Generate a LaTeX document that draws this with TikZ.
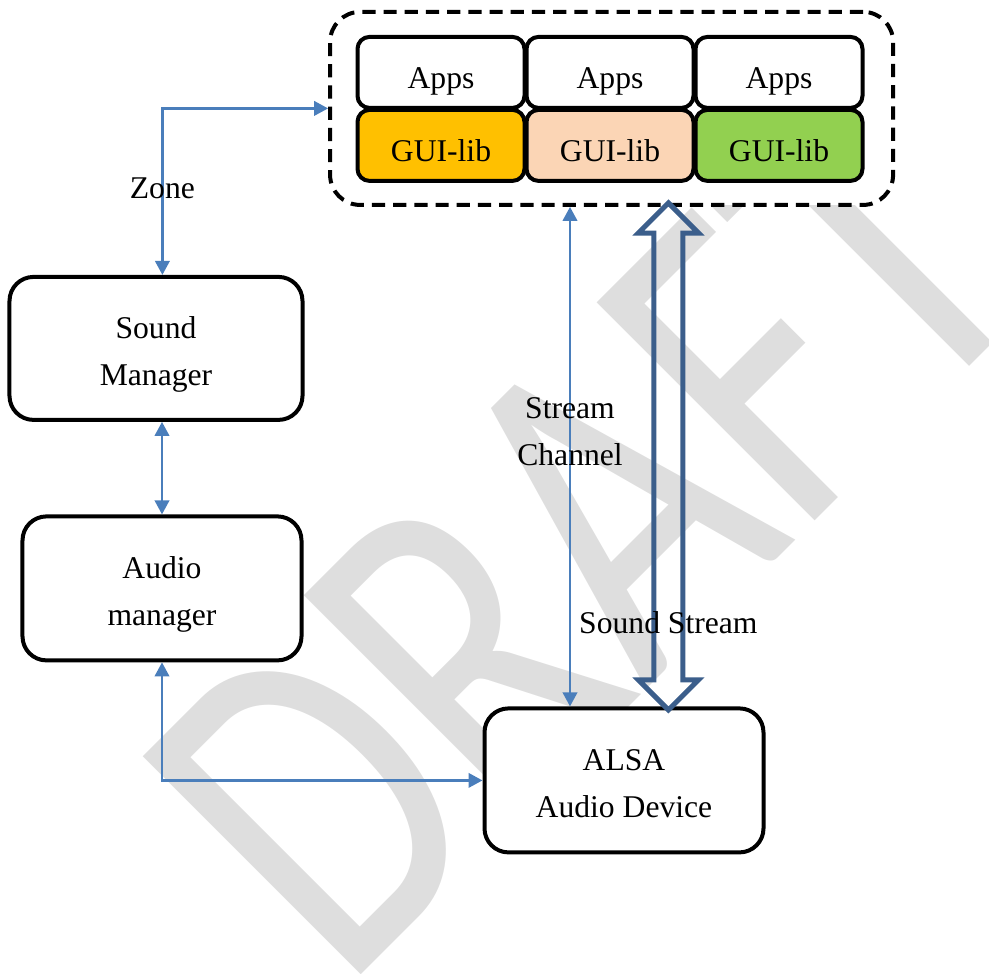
\documentclass[tikz,border=0pt]{standalone}
\usepackage{fontspec}
\setmainfont{Liberation Serif}
\newfontfamily\draftfont{Carlito}
\usetikzlibrary{shapes.arrows, arrows.meta}
\definecolor{guiorange}{RGB}{255,192,0}
\definecolor{guipeach}{RGB}{251,213,181}
\definecolor{guigreen}{RGB}{146,208,80}
\definecolor{linkblue}{RGB}{74,126,187}
\definecolor{streamblue}{RGB}{59,94,139}
\definecolor{draftgray}{RGB}{222,222,222}
\tikzstyle{module} = [rectangle, rounded corners=0.6cm, minimum width=6.975cm, minimum height=3.6cm, align=center, text height=1.87cm, text depth=0cm, draw=black, line width=0.1cm, fill=white]
\tikzstyle{app} = [rectangle, rounded corners=0.3cm, minimum width=4.175cm, minimum height=1.775cm, text centered, text height=0.82cm, text depth=0cm, draw=black, line width=0.1cm, fill=white]
\tikzstyle{appgroup} = [rectangle, rounded corners=0.75cm, minimum width=14.075cm, minimum height=4.825cm, draw=black, line width=0.1cm, dash pattern=on 0.33cm off 0.2cm, fill=white]
\tikzstyle{link} = [line width=0.065cm, <->, >={Triangle[length=0.35cm,width=0.36cm]}, draw=linkblue]
\tikzstyle{bigarrow} = [double arrow, double arrow head extend=0.39cm, minimum width=1.5cm, minimum height=12.675cm, inner xsep=0, inner ysep=0.3cm, draw=streamblue, line width=0.125cm, rotate=90]
\tikzstyle{watermark} = [rotate=45, yscale=1.3, anchor=base west, inner sep=0, text=draftgray, font=\draftfont\fontsize{263}{263}\selectfont]

\begin{document}
\begin{tikzpicture}
[node distance=6cm, font=\fontsize{22.5}{34}\selectfont]
\useasboundingbox (0,0) rectangle (24.725,-24.35);

\node (draft) [watermark] at (8.575,-24.825) {DRAFT};

\node (apps) [appgroup] at (15.29,-2.71) {};
\node (apps2) [app] at (15.25,-1.81) {Apps};
\node (apps1) [app, node distance=4.225cm, left of=apps2] {Apps};
\node (apps3) [app, node distance=4.225cm, right of=apps2] {Apps};
\node (gui1) [app, fill=guiorange, node distance=1.825cm, below of=apps1] {GUI-lib};
\node (gui2) [app, fill=guipeach, node distance=1.825cm, below of=apps2] {GUI-lib};
\node (gui3) [app, fill=guigreen, node distance=1.825cm, below of=apps3] {GUI-lib};

\node (sound) [module, minimum width=7.325cm, minimum height=3.575cm] at (3.9,-8.71) {Sound\\Manager};
\node (audio) [module, below of=sound, xshift=0.15cm] {Audio\\manager};
\node (alsa) [module, right of=audio, xshift=5.55cm, yshift=-4.8cm] {ALSA\\Audio Device};

\draw [link] (apps.west) -| ([xshift=0.16cm]sound.north) node[pos=0.74] {Zone};
\draw [link] (audio.north) -- (audio.north |- sound.south);
\draw [link] (audio.south) |- (alsa.west);
\draw [link] ([xshift=-1.35cm]alsa.north) -- ([xshift=-1.35cm]alsa.north |- apps.south) node[pos=0.55, align=center] {Stream\\Channel};

\node (stream) [bigarrow] at (16.71,-11.41) {};
\node (soundstream) [node distance=4.15cm, below of=stream] {Sound Stream};

\end{tikzpicture}
\end{document}
